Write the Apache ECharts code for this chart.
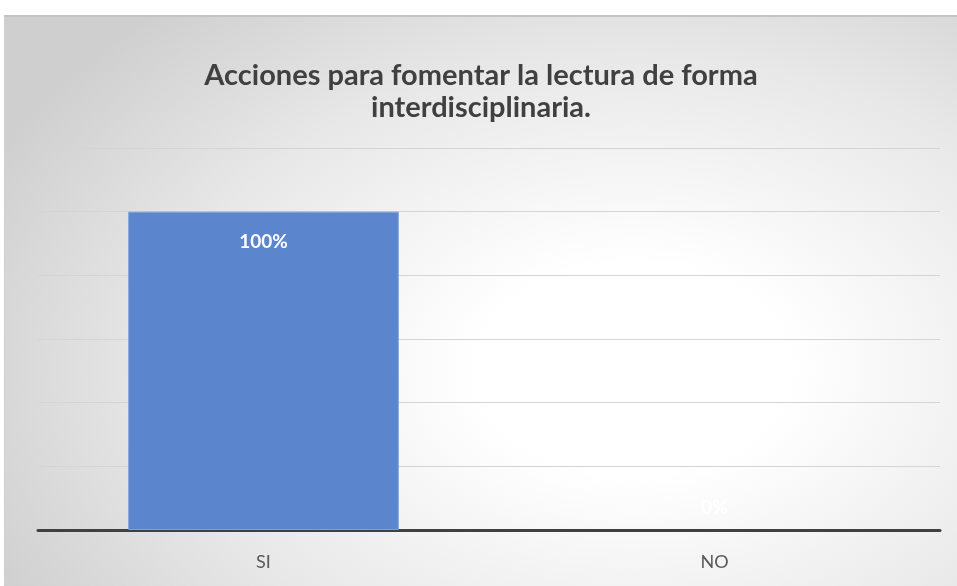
<!DOCTYPE html>
<html>
<head>
<meta charset="utf-8">
<script src="https://cdn.jsdelivr.net/npm/echarts@6/dist/echarts.min.js"></script>
<style>
    html, body {
        margin: 0;
        padding: 0;
        background: #ffffff;
    }
    #chart {
        position: absolute;
        left: 4px;
        top: 15px;
        width: 953px;
        height: 571px;
        border-top: 2px solid #c4c4c4;
        border-left: 1px solid #d0d0d0;
        box-sizing: border-box;
        background: radial-gradient(ellipse 75% 85% at 66% 62%, #ffffff 0%, #ffffff 22%, #e8e8e8 65%, #cfcfcf 100%);
    }
</style>
</head>
<body>
<div id="chart"></div>
<script>
    // datos del grafico
    const categorias = ['SI', 'NO']
    const valores = [1, 0]
    const tituloTexto = 'Acciones para fomentar la lectura de forma\ninterdisciplinaria.'

    const chart = echarts.init(document.getElementById('chart'))

    const seriesData = valores.map((v) => {
        return {
            value: v,
            itemStyle: v === 0 ? { borderWidth: 0 } : {},
            label: v === 0 ? { position: 'top', distance: 13 } : {}
        }
    })

    chart.setOption({
        title: {
            text: tituloTexto,
            left: 'center',
            top: 38,
            textStyle: {
                fontFamily: 'Lato',
                fontWeight: 'bold',
                fontSize: 29,
                lineHeight: 32,
                color: '#404040'
            }
        },
        grid: {
            left: 33,
            right: 17,
            top: 131,
            bottom: 56
        },
        xAxis: {
            type: 'category',
            data: categorias,
            axisTick: { show: false },
            axisLine: {
                lineStyle: { color: '#404040', width: 3 }
            },
            axisLabel: {
                margin: 23,
                fontFamily: 'Lato',
                fontSize: 18,
                color: '#595959'
            }
        },
        yAxis: {
            type: 'value',
            min: 0,
            max: 1.2,
            interval: 0.2,
            axisLine: { show: false },
            axisTick: { show: false },
            axisLabel: { show: false },
            splitLine: {
                lineStyle: { color: '#d4d4d4', width: 1 }
            }
        },
        series: [{
            type: 'bar',
            data: seriesData,
            barWidth: '60%',
            itemStyle: {
                color: '#5b85cc',
                borderColor: '#7fa0d9',
                borderWidth: 1
            },
            label: {
                show: true,
                position: 'insideTop',
                distance: 21,
                fontFamily: 'Lato',
                fontWeight: 'bold',
                fontSize: 19,
                color: '#ffffff',
                formatter: (p) => Math.round(p.value * 100) + '%'
            }
        }]
    })

    window.addEventListener('resize', function () {
        chart.resize()
    })
</script>
</body>
</html>
